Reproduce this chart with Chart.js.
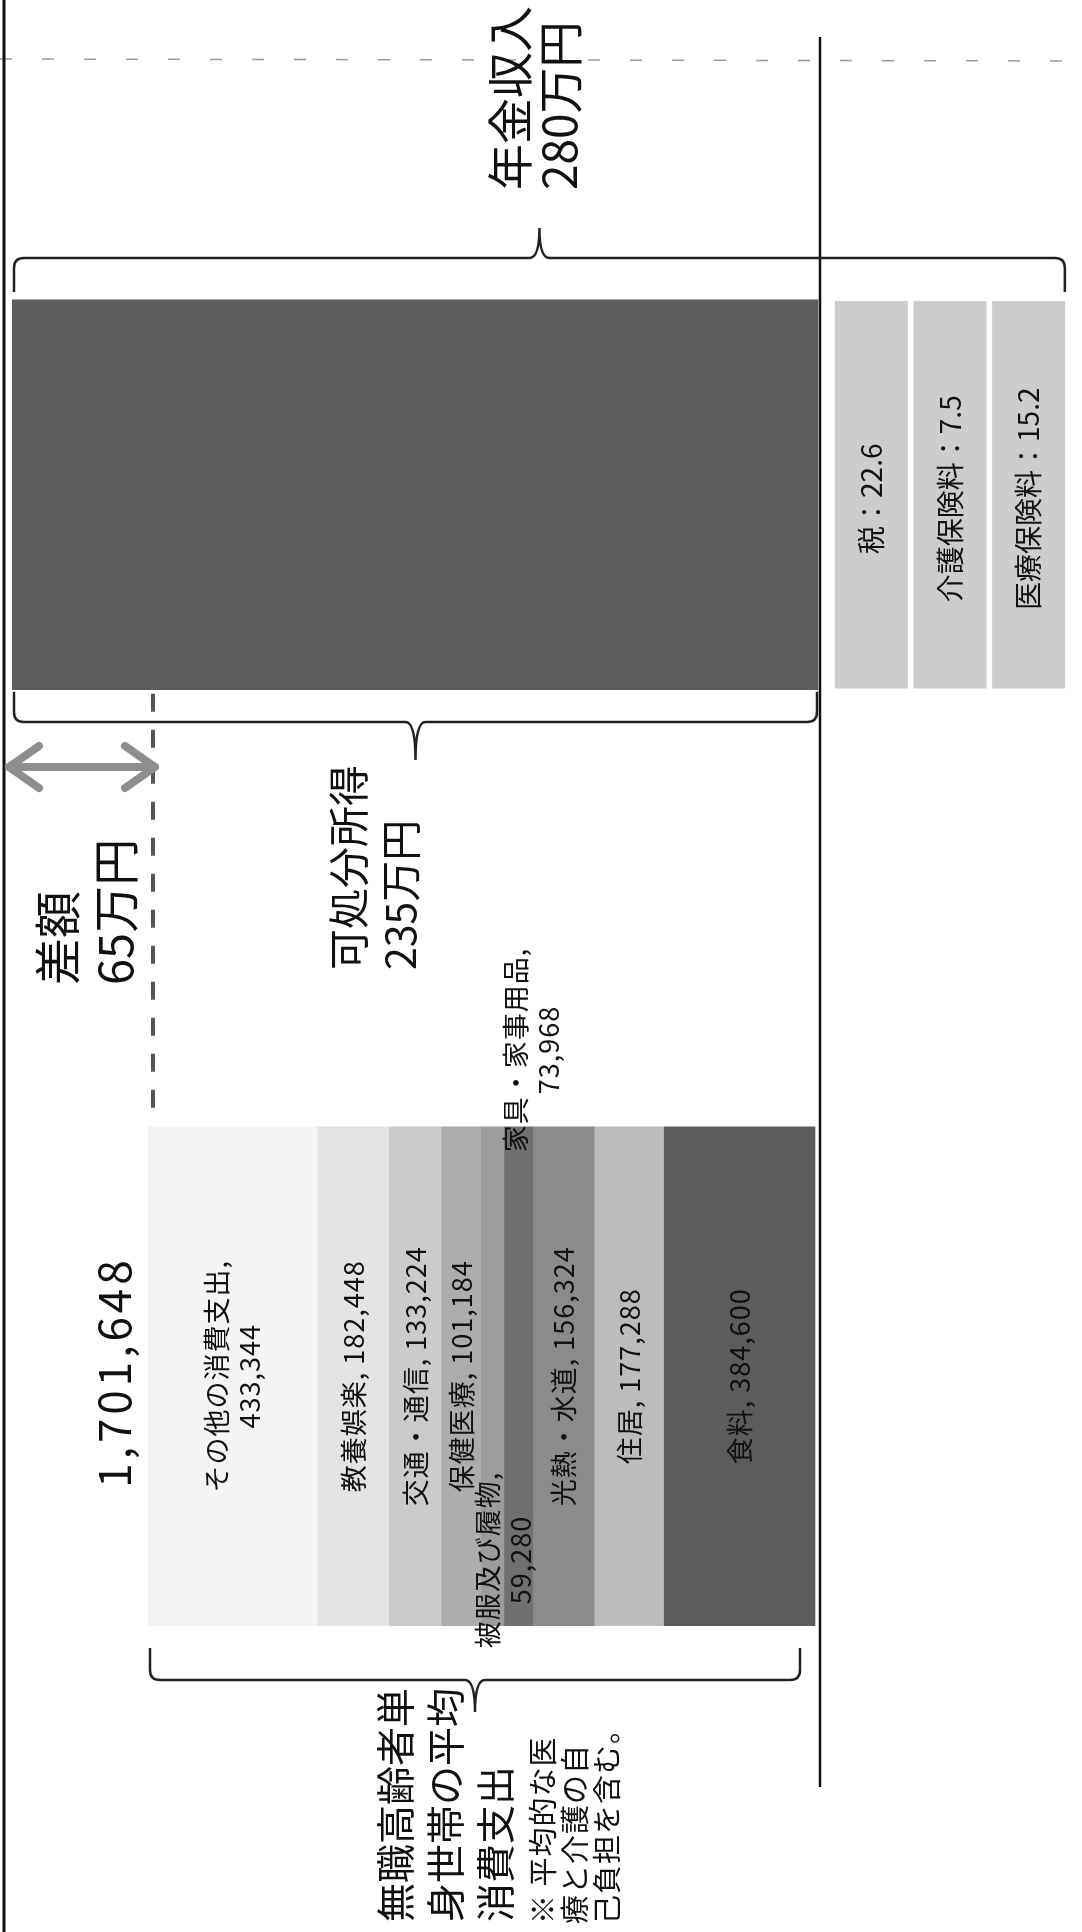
<!DOCTYPE html>
<html lang="ja">
<head>
<meta charset="utf-8">
<title>年金収入と消費支出</title>
<script src="https://cdn.jsdelivr.net/npm/chart.js@4.4.1/dist/chart.umd.min.js"></script>
<style>
	html, body { margin: 0; padding: 0; background: #fff; }
	#wrap { width: 1082px; height: 1932px; }
</style>
</head>
<body>
<div id="wrap"><canvas id="budgetChart" width="1082" height="1932"></canvas></div>
<script>
// rows of the (rotated) chart
const rows = ["年金収入", "消費支出"];

// income side, in 万円
const pensionTotal = 280;
const incomeLabel = "可処分所得";
const incomeValue = 235;
const gapValue = 65;
const taxLabels = ["税", "介護保険料", "医療保険料"];
const taxValues = [22.6, 7.5, 15.2];

// spending side, in 円 (from the axis outwards)
const spendLabels = ["食料", "住居", "光熱・水道", "家具・家事用品", "被服及び履物", "保健医療", "交通・通信", "教養娯楽", "その他の消費支出"];
const spendValues = [384600, 177288, 156324, 73968, 59280, 101184, 133224, 182448, 433344];
const spendTotal = 1701648;

const spendColors = ["#5c5c5c", "#bcbcbc", "#8b8b8b", "#707070", "#9c9c9c", "#adadad", "#cbcbcb", "#e4e4e4", "#f4f4f4"];
const JP = '"Noto Sans CJK JP", "Noto Sans", sans-serif';

// chart area runs from x=12 to x=1068
const AREA_L = 12, AREA_W = 1056;

// reversed axis: value v sits at pxLeft, zero sits at pxZero
const reversedRange = (v, pxLeft, pxZero) => {
	const span = v * AREA_W / (pxZero - pxLeft);
	const max = span * (pxZero - AREA_L) / AREA_W;
	return { min: max - span, max: max };
};
const incRange = reversedRange(incomeValue, 12, 818);
const expRange = reversedRange(spendTotal, 148, 815);

const fmt = (n) => n.toLocaleString("en-US");

const datasets = [];
datasets.push({
	label: incomeLabel,
	data: [incomeValue, null],
	xAxisID: "xInc",
	backgroundColor: "#5d5d5d",
	barThickness: 390,
	grouped: false,
	borderWidth: 0,
});
taxLabels.forEach((name, i) => {
	datasets.push({
		label: name,
		data: [[i + 0.04, i + 0.96], null],
		xAxisID: "xTax",
		backgroundColor: "#cdcdcd",
		barThickness: 387,
		grouped: false,
		borderWidth: 0,
	});
});
spendLabels.forEach((name, i) => {
	datasets.push({
		label: name,
		data: [null, spendValues[i]],
		xAxisID: "xExp",
		stack: "spend",
		backgroundColor: spendColors[i],
		barThickness: 499,
		grouped: false,
		borderWidth: 0,
	});
});

const vText = (ctx, lines, cx, y, size, gap, align, spacing) => {
	ctx.save();
	ctx.translate(cx, y);
	ctx.rotate(-Math.PI / 2);
	ctx.font = size + "px " + JP;
	ctx.letterSpacing = (spacing || 0) + "px";
	ctx.fillStyle = "#111";
	ctx.textAlign = align;
	ctx.textBaseline = "middle";
	lines.forEach((line, i) => {
		ctx.fillText(line, 0, (i - (lines.length - 1) / 2) * gap);
	});
	ctx.restore();
};

// curly brace along x, ends bend toward yEnd, cusp points to yTip
const brace = (ctx, x1, x2, yLine, yEnd, yTip) => {
	const r = 10 * Math.sign(yEnd - yLine);
	const xm = (x1 + x2) / 2;
	ctx.save();
	ctx.strokeStyle = "#222";
	ctx.lineWidth = 2.5;
	ctx.beginPath();
	ctx.moveTo(x1, yEnd);
	ctx.lineTo(x1, yLine + r);
	ctx.quadraticCurveTo(x1, yLine, x1 + 10, yLine);
	ctx.lineTo(xm - 10, yLine);
	ctx.quadraticCurveTo(xm, yLine, xm, yTip);
	ctx.quadraticCurveTo(xm, yLine, xm + 10, yLine);
	ctx.lineTo(x2 - 10, yLine);
	ctx.quadraticCurveTo(x2, yLine, x2, yLine + r);
	ctx.lineTo(x2, yEnd);
	ctx.stroke();
	ctx.restore();
};

const annotate = {
	id: "annotate",
	afterDatasetsDraw(chart) {
		const ctx = chart.ctx;
		const xi = chart.scales.xInc;
		const xe = chart.scales.xExp;
		const zeroX = xi.getPixelForValue(0);

		// faint scan line at the top and the frame lines
		ctx.save();
		ctx.strokeStyle = "#999";
		ctx.lineWidth = 1.5;
		ctx.setLineDash([12, 30]);
		ctx.beginPath();
		ctx.moveTo(0, 59);
		ctx.lineTo(1082, 61);
		ctx.stroke();
		ctx.setLineDash([]);
		ctx.strokeStyle = "#111";
		ctx.lineWidth = 3;
		ctx.beginPath();
		ctx.moveTo(4, 0);
		ctx.lineTo(4, 1932);
		ctx.stroke();
		ctx.lineWidth = 2.5;
		ctx.beginPath();
		ctx.moveTo(zeroX + 2, 37);
		ctx.lineTo(zeroX + 2, 1787);
		ctx.stroke();
		ctx.restore();

		// income bar geometry
		const inc = chart.getDatasetMeta(0).data[0];
		const incBot = inc.y + inc.height / 2;
		const lastTax = chart.getDatasetMeta(taxLabels.length).data[0];

		brace(ctx, inc.x + 2, lastTax.x, 258, 292, 228);
		brace(ctx, inc.x + 2, zeroX - 1, 722, incBot + 2, 760);

		vText(ctx, ["年金収入", pensionTotal + "万円"], 535, 190, 46, 50, "left");
		vText(ctx, [incomeLabel, incomeValue + "万円"], 374, 970, 41, 52, "left");
		vText(ctx, ["差額", gapValue + "万円"], 86, 985, 47, 58, "left");

		// tax boxes
		taxLabels.forEach((name, i) => {
			const el = chart.getDatasetMeta(1 + i).data[0];
			vText(ctx, [name + "：" + taxValues[i]], (el.x + el.base) / 2, el.y + 4, 28, 0, "center");
		});

		// spending labels
		const first = 1 + taxLabels.length;
		const place = { 3: { dx: 13, y: 1050 }, 4: { dx: 11, y: 1560 } };
		const twoLine = [3, 4, 8];
		let spendTop = 0, spendLeft = 0;
		spendLabels.forEach((name, i) => {
			const el = chart.getDatasetMeta(first + i).data[1];
			spendTop = el.y - el.height / 2;
			if (i === spendLabels.length - 1) spendLeft = el.x;
			const p = place[i] || { dx: 0, y: el.y };
			const lines = twoLine.includes(i) ? [name + ",", fmt(spendValues[i])] : [name + ", " + fmt(spendValues[i])];
			vText(ctx, lines, (el.x + el.base) / 2 + p.dx, p.y, 27, 33, "center", 1);
		});

		vText(ctx, [fmt(spendTotal)], 114, 1372, 44, 0, "center", 4);

		// difference marker
		const dashX = xe.getPixelForValue(spendTotal) + 5;
		ctx.save();
		ctx.strokeStyle = "#555";
		ctx.lineWidth = 4;
		ctx.setLineDash([18, 18]);
		ctx.beginPath();
		ctx.moveTo(dashX, incBot + 4);
		ctx.lineTo(dashX, spendTop - 2);
		ctx.stroke();
		ctx.setLineDash([]);
		ctx.strokeStyle = "#8e8e8e";
		ctx.lineWidth = 8;
		ctx.lineCap = "round";
		ctx.lineJoin = "round";
		const ay = 767, ax1 = 9, ax2 = dashX + 2;
		ctx.beginPath();
		ctx.moveTo(ax1, ay);
		ctx.lineTo(ax2, ay);
		ctx.moveTo(ax1 + 30, ay - 21);
		ctx.lineTo(ax1, ay);
		ctx.lineTo(ax1 + 30, ay + 21);
		ctx.moveTo(ax2 - 30, ay - 21);
		ctx.lineTo(ax2, ay);
		ctx.lineTo(ax2 - 30, ay + 21);
		ctx.stroke();
		ctx.restore();

		brace(ctx, spendLeft + 2, zeroX - 18, 1680, 1648, 1712);
		vText(ctx, ["無職高齢者単", "身世帯の平均", "消費支出"], 445, 1922, 39, 50, "left");
		vText(ctx, ["※ 平均的な医", "療と介護の自", "己負担を含む。"], 575, 1924, 29, 32, "left", 1);
	},
};

new Chart(document.getElementById("budgetChart").getContext("2d"), {
	type: "bar",
	data: { labels: rows, datasets: datasets },
	options: {
		indexAxis: "y",
		responsive: false,
		animation: false,
		devicePixelRatio: 1,
		layout: { padding: { left: AREA_L, right: 1082 - AREA_L - AREA_W, top: 54, bottom: 115 } },
		scales: {
			y: { type: "category", display: false, offset: true },
			xInc: { type: "linear", axis: "x", position: "bottom", display: false, reverse: true, min: incRange.min, max: incRange.max },
			xExp: { type: "linear", axis: "x", position: "bottom", display: false, reverse: true, stacked: true, min: expRange.min, max: expRange.max },
			xTax: { type: "linear", axis: "x", position: "bottom", display: false, min: -10.424, max: 3 },
		},
		plugins: { legend: { display: false }, tooltip: { enabled: false } },
	},
	plugins: [annotate],
});
</script>
</body>
</html>
